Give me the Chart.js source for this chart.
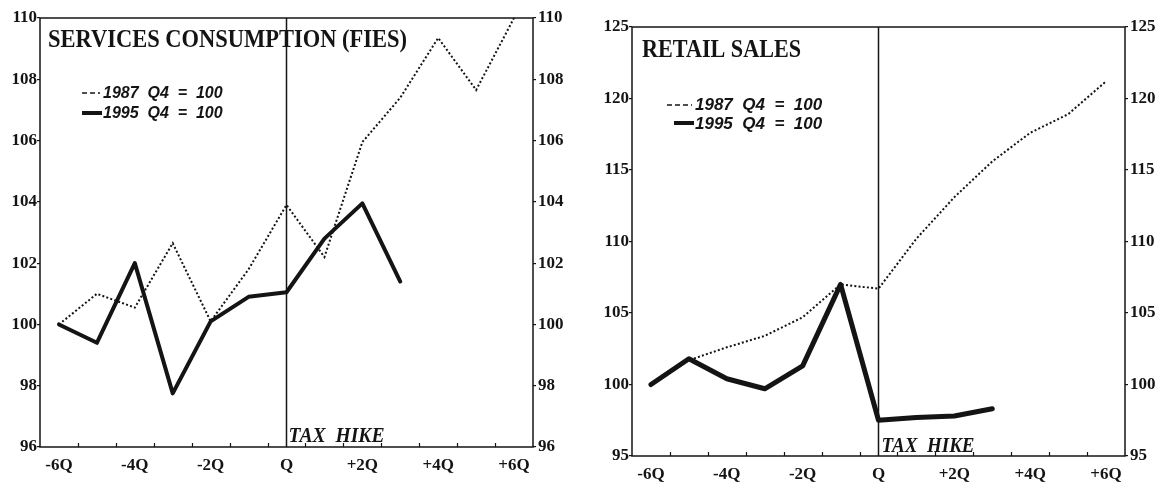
<!DOCTYPE html>
<html>
<head>
<meta charset="utf-8">
<script src="https://cdn.jsdelivr.net/npm/chart.js@4.4.1/dist/chart.umd.min.js"></script>
<style>
	body { margin: 0; background: #fff; width: 1166px; height: 485px; overflow: hidden; position: relative; }
	.box { position: absolute; top: 0; height: 485px; }
	#boxLeft { left: 0; width: 580px; }
	#boxRight { left: 580px; width: 586px; }
</style>
</head>
<body>
<div class="box" id="boxLeft"><canvas id="chartServices" width="580" height="485"></canvas></div>
<div class="box" id="boxRight"><canvas id="chartRetail" width="586" height="485"></canvas></div>
<script>
// quarters relative to the tax hike
var quarters = [-6, -5, -4, -3, -2, -1, 0, 1, 2, 3, 4, 5, 6];
var xTickValues = [-6, -4, -2, 0, 2, 4, 6];
var xTickLabels = ['-6Q', '-4Q', '-2Q', 'Q', '+2Q', '+4Q', '+6Q'];

var services1987 = [100, 101, 100.55, 102.65, 100.1, 101.8, 103.9, 102.2, 105.95, 107.4, 109.35, 107.65, 110];
var services1995 = [100, 99.4, 102, 97.75, 100.1, 100.9, 101.05, 102.8, 103.95, 101.4, null, null, null];
var servicesTicks = [96, 98, 100, 102, 104, 106, 108, 110];

var retail1987 = [100, 101.7, 102.6, 103.4, 104.7, 107.0, 106.7, 110.2, 113.1, 115.6, 117.6, 118.9, 121.2];
var retail1995 = [100, 101.8, 100.4, 99.7, 101.3, 107.0, 97.5, 97.7, 97.8, 98.3, null, null, null];
var retailTicks = [95, 100, 105, 110, 115, 120, 125];

var legendLabels = ['1987  Q4  =  100', '1995  Q4  =  100'];

const INK = '#141414';
const TICK_FONT = { family: "'Liberation Serif', serif", size: 17, weight: 'bold' };

function points(values) {
	return quarters.map((q, i) => ({ x: q, y: values[i] }));
}

function decorPlugin(cfg) {
	return {
		id: 'decor',
		afterDatasetsDraw(chart) {
			let { ctx, chartArea: a, scales } = chart;
			let xs = scales.x;
			let x0 = xs.getPixelForValue(0);

			ctx.save();
			ctx.strokeStyle = INK;
			ctx.fillStyle = INK;
			ctx.lineWidth = 1.5;
			ctx.strokeRect(a.left, a.top, a.width, a.height);

			// tax hike line
			ctx.beginPath();
			ctx.moveTo(x0, a.top);
			ctx.lineTo(x0, a.bottom);
			ctx.stroke();

			// small inward ticks between quarters
			ctx.lineWidth = 1.2;
			quarters.slice(0, -1).forEach(q => {
				let px = Math.round(xs.getPixelForValue(q + 0.5)) + 0.5;
				ctx.beginPath();
				ctx.moveTo(px, a.bottom);
				ctx.lineTo(px, a.bottom - 4);
				ctx.stroke();
			});

			ctx.textAlign = 'left';
			ctx.textBaseline = 'alphabetic';

			// title
			ctx.font = "bold 26px 'Liberation Serif'";
			ctx.fillText(cfg.title, cfg.titleX, cfg.titleY, cfg.titleW);

			// tax hike label
			ctx.font = "italic bold 21px 'Liberation Serif'";
			ctx.fillText('TAX  HIKE', x0 + cfg.taxDx, cfg.taxY, cfg.taxW);

			// legend
			let lg = cfg.legend;
			ctx.lineWidth = 1.6;
			ctx.setLineDash([5, 3]);
			ctx.beginPath();
			ctx.moveTo(lg.x1, lg.y1);
			ctx.lineTo(lg.x2, lg.y1);
			ctx.stroke();
			ctx.setLineDash([]);
			ctx.lineWidth = 4;
			ctx.beginPath();
			ctx.moveTo(lg.x3, lg.y2);
			ctx.lineTo(lg.x2 + 2, lg.y2);
			ctx.stroke();

			ctx.font = `italic bold ${lg.size}px 'Liberation Sans'`;
			ctx.fillText(legendLabels[0], lg.tx, lg.ty1);
			ctx.fillText(legendLabels[1], lg.tx, lg.ty2);
			ctx.restore();
		}
	};
}

function makeChart(id, data1, data2, yTicks, solidWidth, dims, cfg) {
	let ctx = document.getElementById(id).getContext('2d');
	let yMin = yTicks[0], yMax = yTicks[yTicks.length - 1];

	let yAxis = (pos, width) => ({
		type: 'linear',
		position: pos,
		min: yMin,
		max: yMax,
		afterBuildTicks: axis => { axis.ticks = yTicks.map(v => ({ value: v })); },
		afterFit: scale => { scale.width = width; },
		grid: { drawOnChartArea: false, drawTicks: true, tickLength: 3, color: INK, lineWidth: 1.2 },
		border: { display: false },
		ticks: { color: INK, font: TICK_FONT, padding: pos === 'left' ? 0 : 2 }
	});

	return new Chart(ctx, {
		type: 'line',
		data: {
			datasets: [{
				label: legendLabels[0],
				data: points(data1),
				borderColor: INK,
				borderWidth: 2,
				borderDash: [2, 2.2],
				pointRadius: 0,
				tension: 0,
				yAxisID: 'y'
			},
			{
				label: legendLabels[1],
				data: points(data2),
				borderColor: INK,
				borderWidth: solidWidth,
				borderJoinStyle: 'round',
				borderCapStyle: 'round',
				pointRadius: 0,
				tension: 0,
				spanGaps: false,
				yAxisID: 'y'
			}]
		},
		options: {
			responsive: false,
			animation: false,
			devicePixelRatio: 1,
			layout: { padding: { top: dims.top, bottom: dims.bottom, left: 0, right: 0 } },
			plugins: {
				legend: { display: false },
				title: { display: false },
				tooltip: { enabled: false }
			},
			scales: {
				x: {
					type: 'linear',
					min: -6.5,
					max: 6.5,
					afterBuildTicks: axis => { axis.ticks = xTickValues.map(v => ({ value: v })); },
					afterFit: scale => { scale.height = dims.xHeight; },
					grid: { display: true, drawOnChartArea: false, drawTicks: false },
					border: { display: false },
					ticks: {
						color: INK,
						font: TICK_FONT,
						padding: 8,
						autoSkip: false,
						maxRotation: 0,
						callback: v => xTickLabels[xTickValues.indexOf(v)]
					}
				},
				y: yAxis('left', dims.leftW),
				y2: yAxis('right', dims.rightW)
			}
		},
		plugins: [decorPlugin(cfg)]
	});
}

makeChart('chartServices', services1987, services1995, servicesTicks, 4,
	{ top: 18, bottom: 8, xHeight: 30, leftW: 40, rightW: 47 },
	{
		title: 'SERVICES CONSUMPTION (FIES)', titleX: 48, titleY: 47, titleW: 359,
		taxDx: 2, taxY: 442, taxW: 96,
		legend: { x1: 82, x2: 100, x3: 82, y1: 93, y2: 113, tx: 103, ty1: 98, ty2: 118, size: 16 }
	});

makeChart('chartRetail', retail1987, retail1995, retailTicks, 5,
	{ top: 27, bottom: 3, xHeight: 26, leftW: 52, rightW: 41 },
	{
		title: 'RETAIL SALES', titleX: 62, titleY: 57, titleW: 159,
		taxDx: 3, taxY: 452, taxW: 93,
		legend: { x1: 87, x2: 112, x3: 94, y1: 105, y2: 123, tx: 115, ty1: 110, ty2: 129, size: 17 }
	});
</script>
</body>
</html>
